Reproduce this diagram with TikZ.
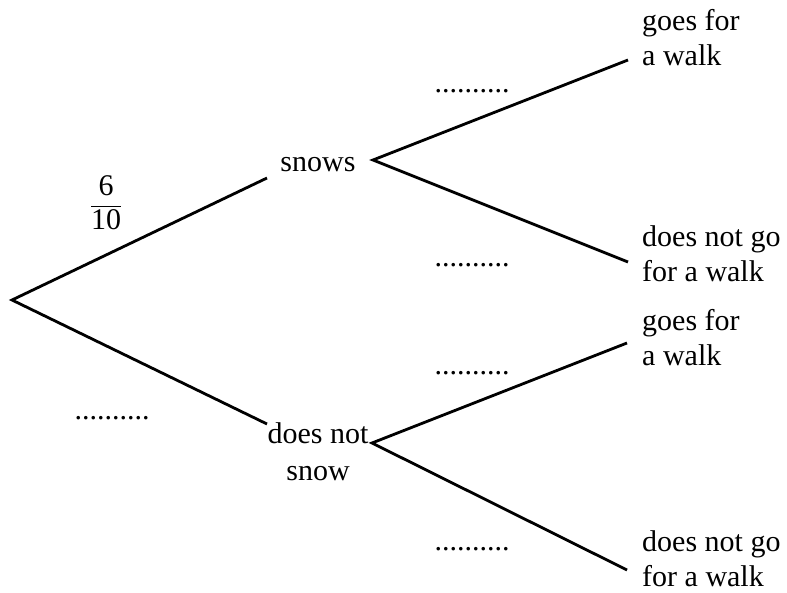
\documentclass[tikz,border=0pt]{standalone}
\usepackage{amsmath}
\usepackage{fontspec}
\setmainfont{Liberation Serif}
\usetikzlibrary{positioning, calc}
\tikzstyle{Branch} = [
line width=2.8pt,
line cap=butt]
\tikzstyle{Label} = [
inner sep=0pt,
font=\fontsize{30}{35}\selectfont]
\tikzstyle{Blank} = [Label, anchor=base]

\begin{document}
\begin{tikzpicture}[x=1pt, y=-1pt]
    \useasboundingbox (0,0) rectangle (787,593);
    \coordinate (0) at (12,300);
    \coordinate (1) at (267,178);
    \coordinate (2) at (267,424);
    \coordinate (3) at (373,160);
    \coordinate (4) at (372,443);
    \coordinate (5) at (628,60);
    \coordinate (6) at (628,262);
    \coordinate (7) at (627,343);
    \coordinate (8) at (627,570);
    % multi-line nodes: base is the last line
    \node [Label, anchor=base] (11) at (318,172) {snows};
    \node [Label, anchor=base, align=center, font=\fontsize{30}{37}\selectfont] (12) at (318,480) {does not\\snow};
    \node [Label] (10) at (106,203) {$\dfrac{\text{6}}{\text{10}}$};
    \node [Label, anchor=base west, align=left] (13) at (642,66) {goes for\\a walk};
    \node [Label, anchor=base west, align=left] (14) at (642,282) {does not go\\for a walk};
    \node [Label, anchor=base west, align=left] (15) at (642,366) {goes for\\a walk};
    \node [Label, anchor=base west, align=left] (16) at (642,586) {does not go\\for a walk};
    \node [Blank] (20) at (112,419) {..........};
    \node [Blank] (21) at (472,93) {..........};
    \node [Blank] (22) at (472,267) {..........};
    \node [Blank] (23) at (472,374) {..........};
    \node [Blank] (24) at (472,550) {..........};
    \draw[Branch] (1) -- (0) -- (2);
    \draw[Branch] (5) -- (3) -- (6);
    \draw[Branch] (7) -- (4) -- (8);
\end{tikzpicture}
\end{document}
